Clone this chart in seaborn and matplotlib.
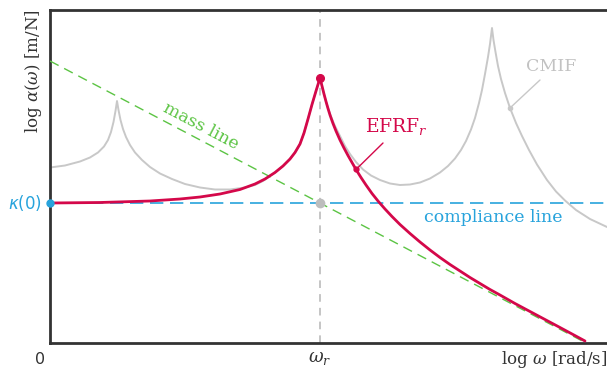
import numpy as np
import pandas as pd
import matplotlib
matplotlib.use("Agg")
import matplotlib.pyplot as plt
import seaborn as sns

# ---- data (arbitrary log units)
# x: log frequency (omega_r at 27.0), y: log receptance (compliance level at 14.0)
efrf_x = [0.0, 5.0, 10.0, 13.0, 15.0, 17.0, 19.0, 20.5, 21.5, 22.5, 23.3, 24.0, 24.5,
          25.0, 25.4, 25.8, 26.2, 26.6, 26.8, 27.0, 27.2, 27.4, 27.6, 27.8, 28.0, 28.3,
          28.6, 29.0, 29.4, 29.8, 30.2, 30.6, 31.1, 31.6, 32.2, 32.8, 33.5, 34.2, 35.0,
          36.0, 37.0, 38.0, 39.0, 40.0, 41.0, 42.0, 43.0, 44.0, 45.0, 46.5, 48.0, 49.5,
          51.0, 52.3, 53.5]
efrf_y = [14.0, 14.05, 14.2, 14.4, 14.6, 14.9, 15.35, 15.9, 16.4, 17.05, 17.7, 18.4, 19.05,
          19.9, 21.0, 22.4, 23.85, 25.2, 25.85, 26.5, 25.7, 24.9, 24.15, 23.45, 22.8, 21.95,
          21.2, 20.3, 19.5, 18.75, 18.05, 17.35, 16.55, 15.8, 14.95, 14.2, 13.4, 12.65, 11.85,
          10.95, 10.1, 9.3, 8.55, 7.85, 7.2, 6.55, 5.95, 5.35, 4.8, 3.95, 3.15, 2.35,
          1.55, 0.85, 0.2]

cmif_x = [0.0, 1.5, 3.0, 4.0, 4.8, 5.4, 5.8, 6.1, 6.35, 6.55, 6.7, 6.85, 7.05, 7.3, 7.6,
          8.0, 8.5, 9.2, 10.0, 11.0, 12.2, 13.5, 15.0, 16.5, 18.0, 19.5, 20.5, 21.3, 22.0,
          22.5, 23.3, 24.0, 24.5, 25.0, 25.4, 25.8, 26.2, 26.6, 26.8, 27.0, 27.2, 27.4, 27.6,
          27.8, 28.1, 28.5, 29.0, 29.5, 30.0, 30.6, 31.3, 32.1, 33.0, 34.0, 35.0, 36.0, 37.0,
          38.0, 39.0, 39.8, 40.5, 41.1, 41.6, 42.1, 42.5, 42.9, 43.2, 43.5, 43.8, 44.0, 44.2,
          44.35, 44.55, 44.8, 45.1, 45.5, 46.0, 46.6, 47.2, 47.9, 48.7, 49.7, 50.6, 51.5,
          52.6, 54.0, 55.7]
cmif_y = [17.55, 17.75, 18.15, 18.55, 19.05, 19.65, 20.3, 21.1, 22.1, 23.2, 24.2, 23.3, 22.3,
          21.4, 20.6, 19.8, 19.05, 18.3, 17.6, 16.95, 16.4, 15.9, 15.55, 15.35, 15.35, 15.55,
          15.8, 16.2, 16.7, 17.05, 17.7, 18.4, 19.05, 19.9, 21.0, 22.4, 23.85, 25.2, 25.85,
          26.5, 25.7, 24.9, 24.15, 23.5, 22.65, 21.7, 20.7, 19.7, 18.9, 18.1, 17.35, 16.75,
          16.3, 15.95, 15.8, 15.85, 16.05, 16.45, 17.05, 17.7, 18.45, 19.3, 20.2, 21.35,
          22.5, 24.0, 25.3, 26.9, 28.6, 29.9, 31.5, 30.3, 29.1, 27.7, 26.4, 25.0, 23.5, 22.0,
          20.7, 19.3, 17.85, 16.3, 15.15, 14.25, 13.3, 12.4, 11.6]

compliance_level = 14.0
mass_intercept = 28.2
mass_slope = -0.526
omega_r = 27.0
x_max = 55.7
y_max = 33.3

efrf_label_point = (30.6, 17.35)
efrf_label_start = (33.3, 20.0)
efrf_text_pos = (34.6, 21.6)
cmif_label_point = (46.0, 23.5)
cmif_label_start = (49.0, 26.3)
cmif_text_pos = (50.1, 27.6)
mass_text_pos = (15.1, 21.7)
compliance_text_pos = (44.3, 12.6)

x_tick_labels = ["0", r"$\omega_r$", r"log $\omega$ [rad/s]"]
y_label = r"log $\alpha(\omega)$ [m/N]"

# ---- colours
RED = "#d4084a"
GREEN = "#5cc444"
BLUE = "#27a3dc"
GRAY = "#c8c8c8"
GRAY_TXT = "#c2c2c2"
SPINE = "#333333"
TXT = "#333333"

sns.set_style("white")
plt.rcParams["font.family"] = ["DejaVu Serif"]
plt.rcParams["mathtext.fontset"] = "dejavuserif"

fig = plt.figure(figsize=(6.07, 3.70), dpi=100)
ax = fig.add_axes([50 / 607, 27 / 370, 557 / 607, 333 / 370])

df_efrf = pd.DataFrame({"x": efrf_x, "y": efrf_y})
df_cmif = pd.DataFrame({"x": cmif_x, "y": cmif_y})
mass_x = [0.0, x_max]
df_mass = pd.DataFrame({"x": mass_x, "y": [mass_intercept + mass_slope * v for v in mass_x]})
df_comp = pd.DataFrame({"x": [0.0, x_max], "y": [compliance_level, compliance_level]})

# vertical omega_r guide
ax.plot([omega_r, omega_r], [0, y_max], color="#b5b5b5", lw=1.1, ls=(0, (5, 4)), zorder=1)

sns.lineplot(data=df_cmif, x="x", y="y", ax=ax, sort=False, estimator=None,
             color=GRAY, lw=1.4, zorder=2)
ax.lines[-1].set_solid_joinstyle("round")
sns.lineplot(data=df_mass, x="x", y="y", ax=ax, sort=False, estimator=None,
             color=GREEN, lw=1.0, zorder=3)
ax.lines[-1].set_linestyle((0, (7, 4.5)))
sns.lineplot(data=df_comp, x="x", y="y", ax=ax, sort=False, estimator=None,
             color=BLUE, lw=1.2, zorder=3)
ax.lines[-1].set_linestyle((0, (8, 4)))
sns.lineplot(data=df_efrf, x="x", y="y", ax=ax, sort=False, estimator=None,
             color=RED, lw=2.0, zorder=4)
ax.lines[-1].set_solid_joinstyle("round")

# dots
ax.plot([omega_r], [compliance_level], "o", color="#bdbdbd", ms=6, zorder=3.5)
ax.plot([omega_r], [max(efrf_y)], "o", color=RED, ms=5.5, zorder=5, clip_on=False)
ax.plot([0], [compliance_level], "o", color=BLUE, ms=5, zorder=6, clip_on=False)

# leader lines
ax.plot([efrf_label_start[0], efrf_label_point[0]], [efrf_label_start[1], efrf_label_point[1]],
        color=RED, lw=1.0, zorder=5)
ax.plot([efrf_label_point[0]], [efrf_label_point[1]], "o", color=RED, ms=3.5, zorder=5)
ax.plot([cmif_label_start[0], cmif_label_point[0]], [cmif_label_start[1], cmif_label_point[1]],
        color=GRAY, lw=1.0, zorder=5)
ax.plot([cmif_label_point[0]], [cmif_label_point[1]], "o", color=GRAY, ms=3, zorder=5)

# texts
ax.text(*efrf_text_pos, r"EFRF$_r$", color=RED, fontsize=13.5, ha="center", va="center")
ax.text(*cmif_text_pos, "CMIF", color=GRAY_TXT, fontsize=12.5, ha="center", va="center")
ax.text(*mass_text_pos, "mass line", color=GREEN, fontsize=12.5, ha="center", va="center",
        rotation=-27.7, rotation_mode="anchor")
ax.text(*compliance_text_pos, "compliance line", color=BLUE, fontsize=12.5,
        ha="center", va="center")

ax.annotate(r"$\kappa$(0)", xy=(0, compliance_level), xytext=(-6, 0), textcoords="offset points",
            ha="right", va="center", color=BLUE, fontsize=12, family="DejaVu Sans",
            math_fontfamily="dejavusans", annotation_clip=False)

ax.set_xlim(0, x_max)
ax.set_ylim(0, y_max)
ax.set_xticks([])
ax.set_yticks([])
ax.set_xlabel("")
ax.set_ylabel("")

# tick-like labels under the axis
ax.annotate(x_tick_labels[0], xy=(0, 0), xytext=(-7, -6.5), textcoords="offset points",
            ha="center", va="top", fontsize=11.5, family="DejaVu Sans", color=TXT,
            annotation_clip=False)
ax.annotate(x_tick_labels[1], xy=(omega_r, 0), xytext=(0, -4), textcoords="offset points",
            ha="center", va="top", fontsize=13, color=TXT, annotation_clip=False)
ax.annotate(x_tick_labels[2], xy=(x_max, 0), xytext=(0, -4), textcoords="offset points",
            ha="right", va="top", fontsize=12, color=TXT, annotation_clip=False)

fig.text(33 / 607, 1 - 71 / 370, y_label, rotation=90, ha="center", va="center",
         fontsize=12, color=TXT)

for side in ["left", "bottom", "top"]:
    ax.spines[side].set_visible(True)
    ax.spines[side].set_color(SPINE)
    ax.spines[side].set_linewidth(2.0)
ax.spines["right"].set_visible(False)

legend = ax.get_legend()
if legend is not None:
    legend.remove()

fig.savefig("out.png", dpi=100)
